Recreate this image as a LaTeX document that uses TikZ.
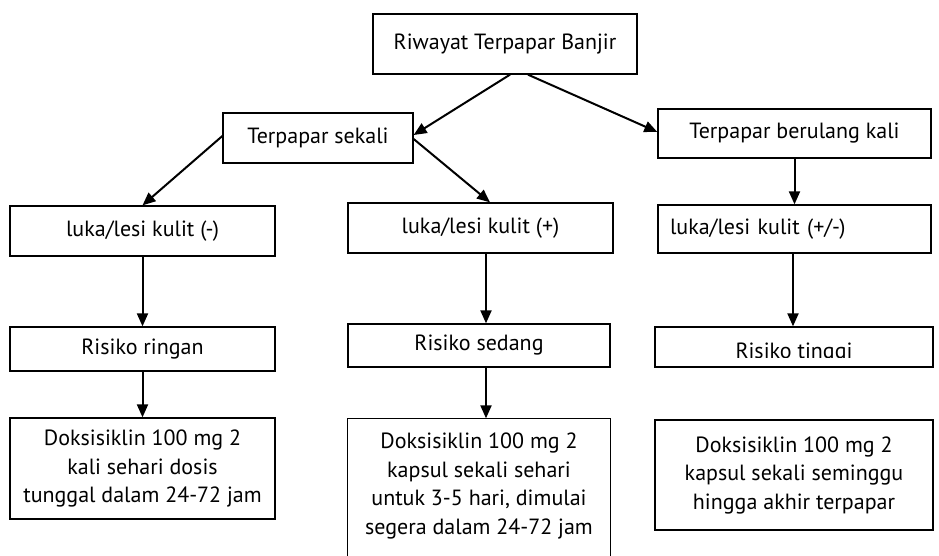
\documentclass[tikz,border=0pt]{standalone}
\usepackage{fontspec}
\setmainfont{PT Sans}
\usetikzlibrary{arrows.meta}
\begin{document}
\begin{tikzpicture}[x=1pt,y=-1pt,
  box/.style={draw=black, line width=1.3pt, inner sep=0pt, align=center,
    font=\fontsize{22}{28.5}\selectfont},
  conn/.style={line width=2pt, -{Triangle[length=13pt,width=11pt]}}]
\useasboundingbox (0,0) rectangle (939,556);
% nodes
\node[box, minimum width=264pt, minimum height=60pt] (r) at (505,44) {Riwayat Terpapar Banjir};
\node[box, minimum width=190pt, minimum height=50pt] (s) at (318,138) {Terpapar sekali};
\node[box, minimum width=273pt, minimum height=49pt] (b) at (794.5,133.5) {Terpapar berulang kali};
\node[box, minimum width=265pt, minimum height=50pt] (l1) at (142.5,231) {luka/lesi kulit (-)};
\node[box, minimum width=265pt, minimum height=50pt] (l2) at (480.5,228) {luka/lesi kulit (+)};
\node[box, minimum width=273pt, minimum height=48pt, inner xsep=12pt, text width=249pt, align=left] (l3) at (794.5,229) {luka/lesi kulit (+/-)};
\node[box, minimum width=265pt, minimum height=44pt] (k1) at (142.5,349) {Risiko ringan};
\node[box, minimum width=262pt, minimum height=43pt] (k2) at (479,345.5) {Risiko sedang};
\node[box, minimum width=278pt, minimum height=40pt] (k3) at (794,347) {};
\begin{scope}
  \clip (k3.north west) rectangle ([yshift=10pt]k3.south east);
  \node[font=\fontsize{22}{28.5}\selectfont, anchor=base, inner sep=0pt] (k3t) at (794,358) {Risiko tinggi};
\end{scope}
\node[box, minimum width=265pt, minimum height=101pt] (d1) at (142.5,468.5) {Doksisiklin 100 mg 2\\kali sehari dosis\\tunggal dalam 24-72 jam};
\node[box, draw=none, minimum width=262pt, minimum height=134pt] (d2) at (479,486) {Doksisiklin 100 mg 2\\kapsul sekali sehari\\untuk 3-5 hari, dimulai\\segera dalam 24-72 jam};
\draw[line width=1.3pt] ([yshift=-40pt]d2.south west) -- (d2.north west) -- (d2.north east) -- ([yshift=-40pt]d2.south east);
\node[box, minimum width=278pt, minimum height=110pt] (d3) at (794,475) {Doksisiklin 100 mg 2\\kapsul sekali seminggu\\hingga akhir terpapar};
% connectors
\draw[conn] ([xshift=5pt]r.south) -- ([yshift=3pt]s.east);
\draw[conn] ([xshift=23pt]r.south) -- ([yshift=1.5pt]b.west);
\draw[conn] ([yshift=2pt]s.west) -- (l1.north);
\draw[conn] ([yshift=-1pt]s.east) -- ([xshift=9.5pt]l2.north);
\draw[conn] (b.south) -- (l3.north);
\draw[conn] (l1.south) -- (k1.north);
\draw[conn] (k1.south) -- (d1.north);
\draw[conn] ([xshift=5.5pt]l2.south) -- ([xshift=7pt]k2.north);
\draw[conn] ([xshift=7pt]k2.south) -- ([xshift=7pt]d2.north);
\draw[conn] ([xshift=-1.5pt]l3.south) -- ([xshift=-1pt]k3.north);
\end{tikzpicture}
\end{document}
